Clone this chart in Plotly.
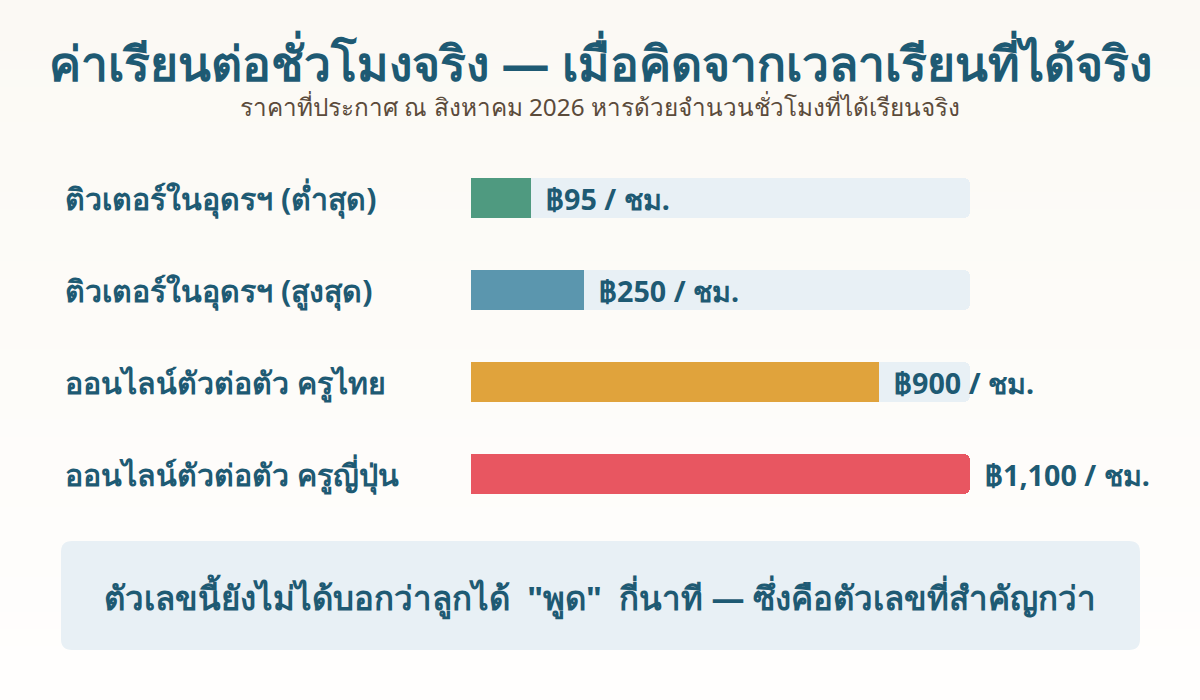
import plotly.graph_objects as go

categories = ["ติวเตอร์ในอุดรฯ (ต่ำสุด)", "ติวเตอร์ในอุดรฯ (สูงสุด)", "ออนไลน์ตัวต่อตัว ครูไทย", "ออนไลน์ตัวต่อตัว ครูญี่ปุ่น"]
values = [95, 250, 900, 1100]
value_labels = ["฿95 / ชม.", "฿250 / ชม.", "฿900 / ชม.", "฿1,100 / ชม."]
colors = ["#4F9A80", "#5B96AE", "#E0A33C", "#E85661"]
scale_max = 1100
min_display = 132  # minimum visible bar length

title = "ค่าเรียนต่อชั่วโมงจริง — เมื่อคิดจากเวลาเรียนที่ได้จริง"
subtitle = "ราคาที่ประกาศ ณ สิงหาคม 2026 หารด้วยจำนวนชั่วโมงที่ได้เรียนจริง"
callout = "ตัวเลขนี้ยังไม่ได้บอกว่าลูกได้  \"พูด\"  กี่นาที — ซึ่งคือตัวเลขที่สำคัญกว่า"

W, H = 1200, 700
FONT = "Noto Sans, sans-serif"
DARK = "#1E5A73"

ypos = list(range(len(categories)))
display = [max(v, min_display) for v in values]

# y mapping: centre of first bar at 198px, 92px per row
px_per = 92.0
y_top = -198 / px_per
y_bot = (H - 198) / px_per

fig = go.Figure()
fig.add_trace(go.Bar(y=ypos, x=[scale_max] * len(ypos), orientation="h",
                     marker=dict(color="#E8F0F5", line=dict(width=0)),
                     width=40 / px_per, hoverinfo="skip", showlegend=False))
fig.add_trace(go.Bar(y=ypos, x=display, orientation="h",
                     marker=dict(color=colors, line=dict(width=0)),
                     width=40 / px_per, customdata=values,
                     hovertemplate="%{customdata}<extra></extra>", showlegend=False))

shapes = []
# background gradient
n = 40
for i in range(n):
    t = i / (n - 1)
    c0 = (251, 249, 244)
    c1 = (255, 254, 253)
    c = tuple(round(c0[k] + (c1[k] - c0[k]) * t) for k in range(3))
    shapes.append(dict(type="rect", xref="paper", yref="paper", x0=0, x1=1,
                       y0=1 - (i + 1) / n, y1=1 - i / n + 0.001,
                       fillcolor="rgb(%d,%d,%d)" % c, line=dict(width=0), layer="below"))

# callout rounded box
def px(x): return x / W
def py(y): return 1 - y / H
x0, x1, y0, y1, r = 61, 1140, 541, 650, 11
path = (f"M {px(x0+r)},{py(y0)} L {px(x1-r)},{py(y0)} Q {px(x1)},{py(y0)} {px(x1)},{py(y0+r)} "
        f"L {px(x1)},{py(y1-r)} Q {px(x1)},{py(y1)} {px(x1-r)},{py(y1)} "
        f"L {px(x0+r)},{py(y1)} Q {px(x0)},{py(y1)} {px(x0)},{py(y1-r)} "
        f"L {px(x0)},{py(y0+r)} Q {px(x0)},{py(y0)} {px(x0+r)},{py(y0)} Z")
shapes.append(dict(type="path", xref="paper", yref="paper", path=path,
                   fillcolor="#E8F0F5", line=dict(width=0), layer="below"))

annotations = []
for i, (cat, d, lab) in enumerate(zip(categories, display, value_labels)):
    annotations.append(dict(x=px(63), xref="paper", y=i, yref="y", text=f"<b>{cat}</b>",
                            showarrow=False, xanchor="left", yanchor="middle",
                            font=dict(family=FONT, size=30.3, color=DARK)))
    annotations.append(dict(x=d, xref="x", y=i, yref="y", text=f"<b>{lab}</b>",
                            showarrow=False, xanchor="left", yanchor="middle", xshift=13,
                            font=dict(family=FONT, size=28.7, color=DARK)))

annotations.append(dict(x=0.5, xref="paper", y=py(63), yref="paper", text=f"<b>{title}</b>",
                        showarrow=False, xanchor="center", yanchor="middle",
                        font=dict(family=FONT, size=48, color=DARK)))
annotations.append(dict(x=0.5, xref="paper", y=py(107), yref="paper", text=subtitle,
                        showarrow=False, xanchor="center", yanchor="middle",
                        font=dict(family=FONT, size=24.3, color="#5B4B3B")))
annotations.append(dict(x=px(600), xref="paper", y=py(597), yref="paper", text=f"<b>{callout}</b>",
                        showarrow=False, xanchor="center", yanchor="middle",
                        font=dict(family=FONT, size=33, color=DARK)))

fig.update_layout(
    width=W, height=H, margin=dict(l=0, r=0, t=0, b=0),
    paper_bgcolor="#FDFCF9", plot_bgcolor="rgba(0,0,0,0)",
    barmode="overlay", barcornerradius=6, bargap=0,
    xaxis=dict(domain=[px(471), px(970)], range=[0, scale_max], visible=False, fixedrange=True),
    yaxis=dict(domain=[0, 1], range=[y_bot, y_top], visible=False, fixedrange=True),
    shapes=shapes, annotations=annotations, font=dict(family=FONT),
)

fig.write_html("out.html", config={"displayModeBar": False},
               post_script="document.body.style.margin='0';document.body.style.overflow='hidden';")
